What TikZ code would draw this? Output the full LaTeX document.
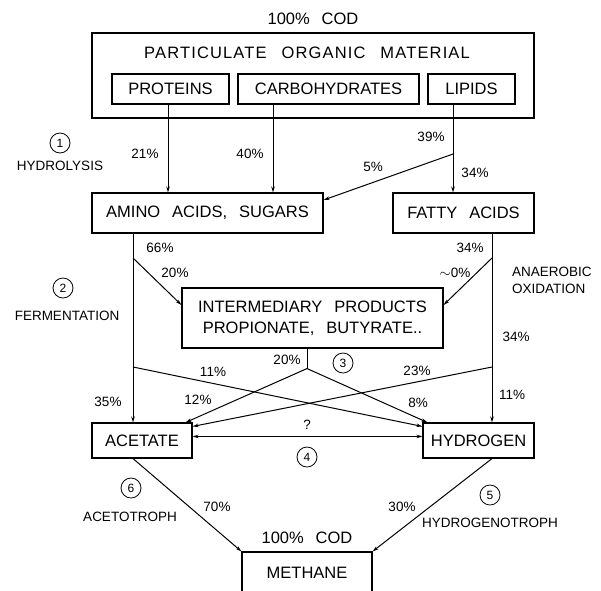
\documentclass[tikz,border=0pt]{standalone}
\usepackage{fontspec}
\setmainfont{Liberation Sans}[WordSpace=2.6]
\usetikzlibrary{arrows.meta}
\begin{document}
\begin{tikzpicture}[x=1pt,y=-1pt,
  box/.style={draw, line width=1.1pt, inner sep=0pt, font=\fontsize{16.5}{21}\selectfont},
  lab/.style={font=\fontsize{13.5}{16}\selectfont, inner sep=0pt},
  big/.style={font=\fontsize{16.5}{20}\selectfont, inner sep=0pt},
  num/.style={draw, circle, line width=0.8pt, minimum size=20pt, inner sep=0pt, font=\fontsize{12}{12}\selectfont},
  arr/.style={line width=1pt, -{Stealth[length=6pt,width=3.5pt]}},
  arrtwo/.style={line width=1pt, {Stealth[length=6pt,width=3.5pt]}-{Stealth[length=6pt,width=3.5pt]}},
  ln/.style={line width=1pt}]
\useasboundingbox (0,0) rectangle (601,590);

% top
\node[big] (cod1) at (313,19) {100\% COD};
\node[box, minimum width=442pt, minimum height=85pt] (pom) at (313,75.5) {};
\node[big] (pomt) at (307,53) {\addfontfeature{LetterSpace=7}PARTICULATE ORGANIC MATERIAL};
\node[box, minimum width=117pt, minimum height=30pt] (prot) at (170.5,89) {PROTEINS};
\node[box, minimum width=181pt, minimum height=30pt] (carb) at (328.5,89) {CARBOHYDRATES};
\node[box, minimum width=87pt, minimum height=30pt] (lip) at (471.5,89) {LIPIDS};

% second row
\node[box, minimum width=231pt, minimum height=40pt] (amino) at (207.5,213) {AMINO ACIDS, SUGARS};
\node[box, minimum width=141pt, minimum height=40pt] (fatty) at (463.5,213) {FATTY ACIDS};

% intermediary
\node[box, minimum width=261pt, minimum height=60pt, align=center] (inter) at (312.5,318) {INTERMEDIARY PRODUCTS\\PROPIONATE, BUTYRATE..};

% acetate, hydrogen, methane
\node[box, minimum width=100pt, minimum height=35pt] (acet) at (142,440.5) {ACETATE};
\node[box, minimum width=111pt, minimum height=35pt] (hyd) at (478.5,440.5) {HYDROGEN};
\node[box, minimum width=130pt, minimum height=42pt] (meth) at (307,573) {METHANE};
\node[big] (cod2) at (307,538) {100\% COD};

% hydrolysis arrows
\draw[arr] ([xshift=-2.5pt]prot.south) -- ([xshift=-2.5pt]prot.south |- amino.north);
\draw[arr] ([xshift=-55.5pt]carb.south) -- ([xshift=-55.5pt]carb.south |- amino.north);
\draw[arr] ([xshift=-18.5pt]lip.south) -- ([xshift=-18.5pt]lip.south |- fatty.north);
\coordinate (lb) at (453,154);
\draw[arr] (lb) -- ([yshift=13pt]amino.east);

% verticals
\coordinate (la) at ([xshift=-74.5pt]amino.south);
\coordinate (ra) at ([xshift=28.5pt]fatty.south);
\draw[arr] (la) -- (la |- acet.north);
\draw[arr] (ra) -- (ra |- hyd.north);
\coordinate (l2) at (133,258);
\coordinate (r2) at (492,258);
\coordinate (l3) at (133,367);
\coordinate (r3) at (492,367);
\draw[arr] (l2) -- ([yshift=13pt]inter.west);
\draw[arr] (r2) -- ([yshift=13pt]inter.east);

% from intermediary
\coordinate (s1) at ([xshift=-5.5pt]inter.south);
\coordinate (s2) at ([yshift=-20pt]s1);
\draw[ln] (s1) -- (s2);
\draw[arr] (s2) -- ([xshift=-7pt]acet.north east);
\draw[arr] (s2) -- ([xshift=5pt]hyd.north west);
\draw[arr] (l3) -- ([yshift=-4pt]hyd.north west);
\draw[arr] (r3) -- ([yshift=-4pt]acet.north east);
\draw[arrtwo] ([yshift=-14pt]acet.north east) -- ([yshift=-14pt]hyd.north west);

% to methane
\draw[arr] ([xshift=-9pt]acet.south) -- (meth.north west);
\draw[arr] ([xshift=13.5pt]hyd.south) -- (meth.north east);

% labels
\node[num] (n1) at (60,143) {1};
\node[lab] (hydro) at (60,166) {HYDROLYSIS};
\node[lab] (p21) at (145,154) {21\%};
\node[lab] (p40) at (250,154) {40\%};
\node[lab] (p39) at (431,137) {39\%};
\node[lab] (p5) at (373,167) {5\%};
\node[lab] (p34a) at (475,173) {34\%};

\node[lab] (p66) at (160,248) {66\%};
\node[lab] (p20a) at (175,273) {20\%};
\node[lab] (p34b) at (470,248) {34\%};
\node[lab] (p0) at (455,273) {$\sim$0\%};
\node[num] (n2) at (63,288) {2};
\node[lab] (ferm) at (67,316) {FERMENTATION};
\node[lab, anchor=west] (anae) at (512,272) {ANAEROBIC};
\node[lab, anchor=west] (oxid) at (512,289) {OXIDATION};
\node[lab] (p34c) at (516,337) {34\%};

\node[lab] (p20b) at (287,360) {20\%};
\node[num] (n3) at (343,363) {3};
\node[lab] (p11a) at (213,372) {11\%};
\node[lab] (p23) at (417,371) {23\%};
\node[lab] (p35) at (108,402) {35\%};
\node[lab] (p12) at (198,400) {12\%};
\node[lab] (p8) at (418,403) {8\%};
\node[lab] (p11b) at (512,395) {11\%};
\node[lab] (q) at (307,425) {?};
\node[num] (n4) at (307,457) {4};

\node[num] (n6) at (131,488) {6};
\node[lab] (aceto) at (130,517) {ACETOTROPH};
\node[lab] (p70) at (217,507) {70\%};
\node[lab] (p30) at (402,507) {30\%};
\node[num] (n5) at (490,495) {5};
\node[lab] (hydrog) at (490,523) {HYDROGENOTROPH};
\end{tikzpicture}
\end{document}
